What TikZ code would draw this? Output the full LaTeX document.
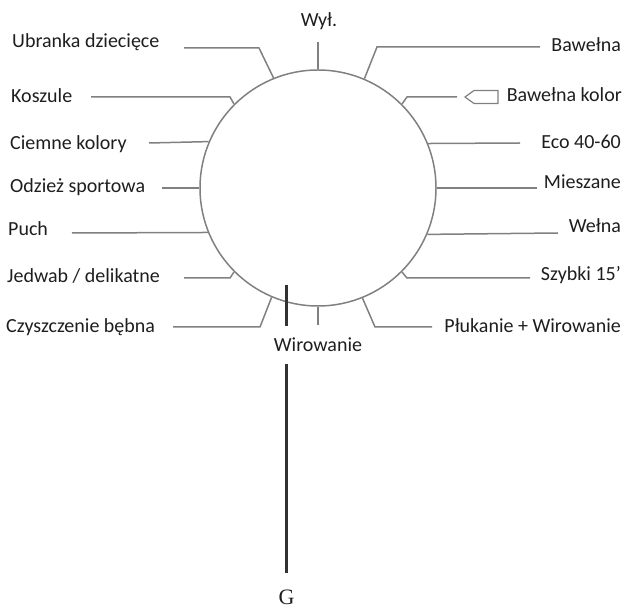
\documentclass[tikz,border=0pt]{standalone}
\usepackage{fontspec}
\setmainfont{Carlito}
\newfontfamily\gfont{Liberation Serif}
\usepackage{tikz}
\definecolor{dialgrey}{RGB}{128,128,128}
\definecolor{textdark}{RGB}{30,30,30}
\definecolor{handdark}{RGB}{50,50,50}

\begin{document}
\begin{tikzpicture}[x=1pt, y=-1pt,
    dial/.style={circle, draw=dialgrey, line width=1.5pt, minimum size=236pt, inner sep=0pt},
    lead/.style={dialgrey, line width=1.5pt},
    prog/.style={inner sep=0pt, text=textdark, font=\fontsize{20}{24}\selectfont},
    hand/.style={handdark, line width=3pt}
]
\useasboundingbox (0,0) rectangle (629,609);

\node[dial] (dial) at (318,188) {};

\node[prog, anchor=base] (wyl) at (319,27) {Wył.};
\node[prog, anchor=base west] (ubranka) at (12,48) {Ubranka dziecięce};
\node[prog, anchor=base west] (koszule) at (11,103) {Koszule};
\node[prog, anchor=base west] (ciemne) at (10,150) {Ciemne kolory};
\node[prog, anchor=base west] (odziez) at (10,193) {Odzież sportowa};
\node[prog, anchor=base west] (puch) at (8,236) {Puch};
\node[prog, anchor=base west] (jedwab) at (7,283) {Jedwab / delikatne};
\node[prog, anchor=base west] (czyszczenie) at (6,333) {Czyszczenie bębna};
\node[prog, anchor=base, inner ysep=12pt] (wirowanie) at (318,352) {Wirowanie};
\node[prog, anchor=base east] (plukanie) at (621,333) {Płukanie + Wirowanie};
\node[prog, anchor=base east] (szybki) at (621,281) {Szybki 15’};
\node[prog, anchor=base east] (welna) at (621,233) {Wełna};
\node[prog, anchor=base east] (mieszane) at (621,189) {Mieszane};
\node[prog, anchor=base east] (eco) at (621,149) {Eco 40-60};
\node[prog, anchor=base east] (kolor) at (622,102) {Bawełna kolor};
\node[prog, anchor=base east] (bawelna) at (621,52) {Bawełna};
\node[inner sep=0pt, anchor=base, text=textdark, font=\gfont\fontsize{22}{26}\selectfont] (gee) at (286.5,604) {G};

\coordinate (wyl-e) at (318,42);
\coordinate (ubranka-e) at (184,48);
\coordinate (koszule-e) at (91,97);
\coordinate (ciemne-e) at (149,143);
\coordinate (odziez-e) at (162,188);
\coordinate (puch-e) at (72,233);
\coordinate (jedwab-e) at (184,278);
\coordinate (czyszczenie-e) at (173,327);
\coordinate (wirowanie-e) at (318,325);
\coordinate (plukanie-e) at (432,327);
\coordinate (szybki-e) at (530,278);
\coordinate (welna-e) at (558,233);
\coordinate (mieszane-e) at (537,188);
\coordinate (eco-e) at (520,143);
\coordinate (kolor-e) at (457,97);
\coordinate (bawelna-e) at (540,47);
\coordinate (hand-top) at (286.5,285);

\draw[lead] (dial.90) -- (wyl-e);
\draw[lead] (dial.112.5) -- (259,48) -- (ubranka-e);
\draw[lead] (dial.135) -- (230,97) -- (koszule-e);
\draw[lead] (dial.157.5) -- (ciemne-e);
\draw[lead] (dial.180) -- (odziez-e);
\draw[lead] (dial.202.5) -- (puch-e);
\draw[lead] (dial.225) -- (230,278) -- (jedwab-e);
\draw[lead] (dial.247.5) -- (260,327) -- (czyszczenie-e);
\draw[lead] (dial.270) -- (wirowanie-e);
\draw[lead] (dial.292.5) -- (375,327) -- (plukanie-e);
\draw[lead] (dial.315) -- (407,278) -- (szybki-e);
\draw[lead] (dial.337.5) -- (welna-e);
\draw[lead] (dial.0) -- (mieszane-e);
\draw[lead] (dial.22.5) -- (eco-e);
\draw[lead] (dial.45) -- (407,97) -- (kolor-e);
\draw[lead] (dial.67.5) -- (377,47) -- (bawelna-e);
\draw[lead, line width=1.2pt] (465,97) -- (474,90.5) -- (498,90.5) -- (498,103.5) -- (474,103.5) -- cycle;

\draw[hand] (hand-top) -- (wirowanie.north -| hand-top);
\draw[hand] (wirowanie.south -| hand-top) -- ([yshift=16pt]gee.north);
\end{tikzpicture}
\end{document}
